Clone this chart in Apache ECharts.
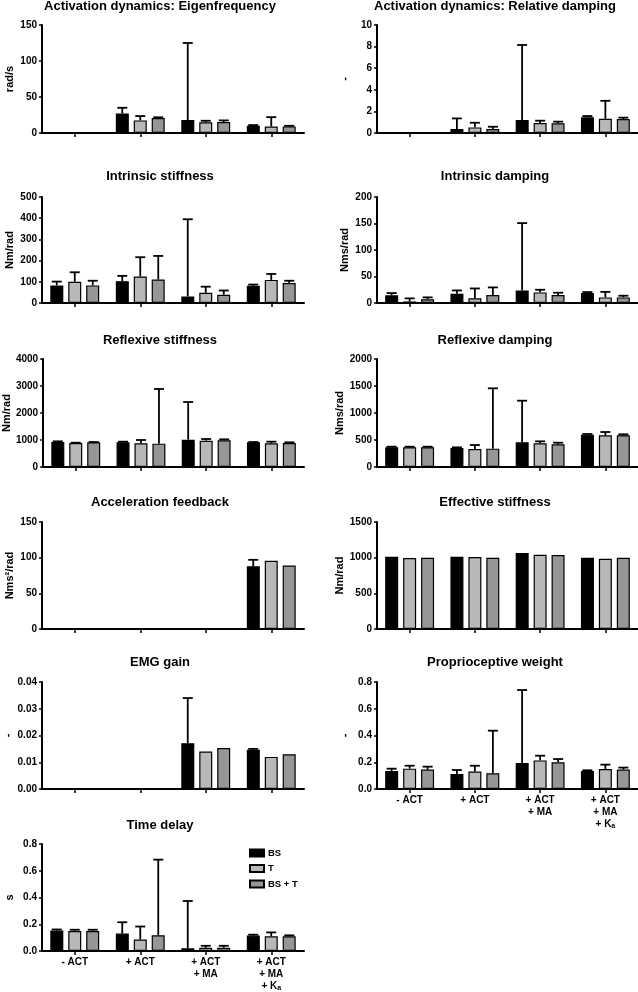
<!DOCTYPE html>
<html><head><meta charset="utf-8">
<script src="https://cdn.jsdelivr.net/npm/echarts@6/dist/echarts.min.js"></script>
<style>html,body{margin:0;padding:0;background:#fff}#c{width:638px;height:992px}</style>
</head><body><div id="c"></div>
<script>
// ---------- data ----------
const categories = ['- ACT', '+ ACT', '+ ACT\n+ MA', '+ ACT\n+ MA\n+ K_a'];
const groups = ['BS', 'T', 'BS + T'];

const titles = ['Activation dynamics: Eigenfrequency', 'Activation dynamics: Relative damping',
  'Intrinsic stiffness', 'Intrinsic damping', 'Reflexive stiffness', 'Reflexive damping',
  'Acceleration feedback', 'Effective stiffness', 'EMG gain', 'Proprioceptive weight', 'Time delay'];
const yNames = ['rad/s', '-', 'Nm/rad', 'Nms/rad', 'Nm/rad', 'Nms/rad', 'Nms\u00b2/rad', 'Nm/rad', '-', '-', 's'];
const yMax = [150, 10, 500, 200, 4000, 2000, 150, 1500, 0.04, 0.8, 0.8];
const yStep = [50, 2, 100, 50, 1000, 500, 50, 500, 0.01, 0.2, 0.2];
const yDecimals = [0, 0, 0, 0, 0, 0, 0, 0, 2, 1, 1];

// means per group [BS, T, BS + T]; sd = upper error bar length
const eigenfreqMean = [[null, 27, 18, 10], [null, 17.5, 14.8, 9], [null, 20.8, 15.2, 9.2]];
const eigenfreqSD   = [[null, 8, 107, 1], [null, 6, 2.2, 13], [null, 1, 2.3, 0.8]];
const relDampMean = [[null, 0.37, 1.2, 1.45], [null, 0.52, 0.92, 1.32], [null, 0.37, 0.9, 1.3]];
const relDampSD   = [[null, 0.98, 6.95, 0.12], [null, 0.43, 0.22, 1.66], [null, 0.21, 0.15, 0.12]];
const intStiffMean = [[83, 103, 31, 81], [100, 125, 48, 109], [83, 111, 39, 94]];
const intStiffSD   = [[18, 25, 364, 6], [45, 91, 29, 28], [22, 111, 20, 11]];
const intDampMean = [[14.4, 17.5, 23.75, 18.75], [3, 8.75, 20, 10.6], [7, 15, 15, 10.6]];
const intDampSD   = [[4.3, 6.2, 127, 1.9], [5.7, 18.7, 5, 10.4], [3.6, 14.4, 4.4, 3.1]];
const refStiffMean = [[926, 913, 1012, 913], [889, 876, 975, 876], [913, 864, 988, 889]];
const refStiffSD   = [[24, 25, 1395, 12], [11, 124, 62, 62], [12, 2026, 37, 24]];
const refDampMean = [[364, 352, 457, 599], [364, 333, 438, 586], [364, 340, 420, 586]];
const refDampSD   = [[12, 12, 771, 12], [12, 74, 37, 62], [12, 1117, 30, 19]];
const accFbMean = [[null, null, null, 88], [null, null, null, 95.7], [null, null, null, 89]];
const accFbSD   = [[null, null, null, 9], [null, null, null, null], [null, null, null, null]];
const effStiffMean = [[1012, 1012, 1064, 999], [994, 1008, 1040, 985], [999, 999, 1036, 999]];
const effStiffSD   = [[null, null, null, null], [null, null, null, null], [null, null, null, null]];
const emgMean = [[null, null, 0.0171, 0.0147], [null, null, 0.014, 0.012], [null, null, 0.0153, 0.013]];
const emgSD   = [[null, null, 0.0169, 0.0003], [null, null, null, null], [null, null, null, null]];
const propMean = [[0.135, 0.112, 0.194, 0.135], [0.152, 0.13, 0.214, 0.15], [0.145, 0.117, 0.2, 0.145]];
const propSD   = [[0.017, 0.03, 0.546, 0.005], [0.022, 0.044, 0.035, 0.032], [0.022, 0.319, 0.024, 0.015]];
const delayMean = [[0.154, 0.13, 0.02, 0.115], [0.149, 0.086, 0.024, 0.11], [0.149, 0.117, 0.024, 0.11]];
const delaySD   = [[0.007, 0.085, 0.354, 0.007], [0.01, 0.097, 0.015, 0.029], [0.01, 0.566, 0.015, 0.007]];

const means = [eigenfreqMean, relDampMean, intStiffMean, intDampMean, refStiffMean, refDampMean,
  accFbMean, effStiffMean, emgMean, propMean, delayMean];
const sds = [eigenfreqSD, relDampSD, intStiffSD, intDampSD, refStiffSD, refDampSD,
  accFbSD, effStiffSD, emgSD, propSD, delaySD];

// ---------- layout / style ----------
const FONT = '"Liberation Sans", Arial, sans-serif';
const colors = ['#000000', '#b8b8b8', '#969696'];
const rowTop = [25, 197, 359, 522, 682, 844];
const rowH = [108, 106, 108, 107, 107, 109];
const colLeft = [42, 377];
const colW = [262, 261];
const titleX = [160, 495];
const titleY = [6, 176, 340, 502, 662, 825];
const labelPanels = [9, 10];
const offsets = [-18, 0, 18];

const grid = [], xAxis = [], yAxis = [], series = [], graphic = [];
for (let i = 0; i < titles.length; i++) {
  const r = Math.floor(i / 2), c = i % 2;
  grid.push({ left: colLeft[c], top: rowTop[r], width: colW[c], height: rowH[r], containLabel: false });
  xAxis.push({
    type: 'category', gridIndex: i, data: categories,
    axisLine: { show: true, lineStyle: { color: '#000', width: 2 } },
    axisTick: { show: true, alignWithLabel: true, length: 4, lineStyle: { color: '#000', width: 1.5 } },
    axisLabel: {
      show: labelPanels.includes(i), interval: 0, color: '#000', fontFamily: FONT,
      fontSize: 10, fontWeight: 'bold', lineHeight: 12, margin: 5,
      formatter: v => v.replace('K_a', 'K{sub|a}'),
      rich: { sub: { fontSize: 7, fontWeight: 'bold', fontFamily: FONT, color: '#000', verticalAlign: 'bottom', lineHeight: 12, padding: [3, 0, 0, 0] } }
    },
    splitLine: { show: false }
  });
  yAxis.push({
    type: 'value', gridIndex: i, min: 0, max: yMax[i], interval: yStep[i],
    name: yNames[i], nameLocation: 'middle', nameGap: 27,
    nameTextStyle: { color: '#000', fontFamily: FONT, fontSize: 11, fontWeight: 'bold' },
    axisLine: { show: true, lineStyle: { color: '#000', width: 2 } },
    axisTick: { show: true, length: 3, lineStyle: { color: '#000', width: 1.5 } },
    axisLabel: { color: '#000', fontFamily: FONT, fontSize: 10, fontWeight: 'bold', margin: 5,
      formatter: v => Number(v).toFixed(yDecimals[i]) },
    splitLine: { show: false }
  });
  for (let g = 0; g < 3; g++) {
    series.push({
      name: groups[g], type: 'bar', xAxisIndex: i, yAxisIndex: i,
      data: means[i][g], barWidth: 13, barGap: '38%',
      itemStyle: { color: colors[g], borderColor: '#000', borderWidth: 1.2 },
      z: 2
    });
  }
  for (let g = 0; g < 3; g++) {
    const data = [];
    for (let k = 0; k < categories.length; k++) {
      const m = means[i][g][k], s = sds[i][g][k];
      if (m != null && s != null) data.push([k, m, s]);
    }
    if (!data.length) continue;
    series.push({
      type: 'custom', xAxisIndex: i, yAxisIndex: i, z: 3, data: data,
      encode: { x: 0, y: 1 },
      renderItem: (params, api) => {
        const k = api.value(0), m = api.value(1), s = api.value(2);
        const p0 = api.coord([k, m]), p1 = api.coord([k, m + s]);
        const x = p0[0] + offsets[g];
        return { type: 'group', children: [
          { type: 'line', shape: { x1: x, y1: p0[1], x2: x, y2: p1[1] }, style: { stroke: '#000', lineWidth: 1.8 } },
          { type: 'line', shape: { x1: x - 5, y1: p1[1], x2: x + 5, y2: p1[1] }, style: { stroke: '#000', lineWidth: 1.8 } }
        ] };
      }
    });
  }
  graphic.push({
    type: 'text', x: titleX[c], y: titleY[r],
    style: { text: titles[i], font: 'bold 13px ' + FONT, fill: '#000', align: 'center', verticalAlign: 'middle' }
  });
}

const option = {
  animation: false,
  backgroundColor: '#fff',
  textStyle: { fontFamily: FONT },
  grid, xAxis, yAxis, series, graphic,
  legend: {
    data: groups, orient: 'vertical', left: 249, top: 848, padding: 0,
    itemWidth: 14, itemHeight: 7, itemGap: 5.5, icon: 'rect',
    textStyle: { color: '#000', fontFamily: FONT, fontSize: 9.5, fontWeight: 'bold', padding: [0, 0, 0, -1] }
  }
};
const chart = echarts.init(document.getElementById('c'), null, { renderer: 'canvas' });
chart.setOption(option);
</script>
</body></html>
